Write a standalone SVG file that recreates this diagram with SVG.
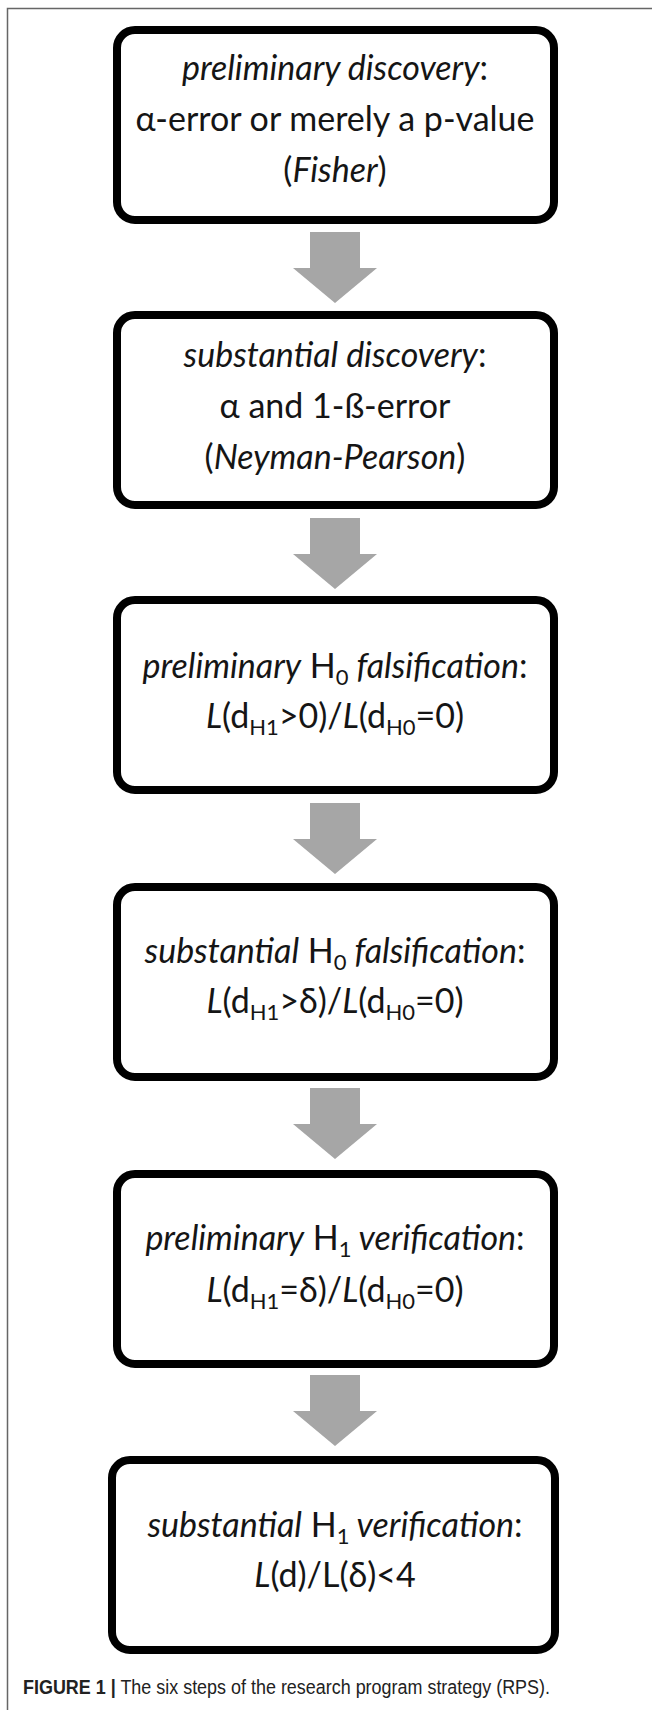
<svg xmlns="http://www.w3.org/2000/svg" width="652" height="1710" viewBox="0 0 652 1710">
<style>
.box{fill:#fff;stroke:#000;stroke-width:8}
.t{font-family:Lato,"Open Sans","Liberation Sans",sans-serif;font-size:34px;fill:#151515;text-anchor:middle}
.i{font-style:italic}
.arrow{fill:#a6a6a6}
.cap{font-family:"Liberation Sans",Arial,sans-serif;font-size:21px;fill:#222}
</style>
<rect width="652" height="1710" fill="#fff"/>
<path d="M7.5 1710 V8.5 H652" fill="none" stroke="#666" stroke-width="1.5"/>
<g id="connectors">
<polygon class="arrow" points="310,232 360,232 360,268 377,268 335,303 293,268 310,268"/>
<polygon class="arrow" points="310,518 360,518 360,554 377,554 335,589 293,554 310,554"/>
<polygon class="arrow" points="310,803 360,803 360,839 377,839 335,874 293,839 310,839"/>
<polygon class="arrow" points="310,1088 360,1088 360,1124 377,1124 335,1159 293,1124 310,1124"/>
<polygon class="arrow" points="310,1375 360,1375 360,1411 377,1411 335,1446 293,1411 310,1411"/>
</g>
<g id="n1">
<rect class="box" x="117" y="30" width="437" height="190" rx="18"/>
<text class="t" x="335" y="80"><tspan class="i">preliminary discovery</tspan>:</text>
<text class="t" x="335" y="131">α-error or merely a p-value</text>
<text class="t" x="335" y="182">(<tspan class="i">Fisher</tspan>)</text>
</g>
<g id="n2">
<rect class="box" x="117" y="315" width="437" height="190" rx="18"/>
<text class="t" x="335" y="367"><tspan class="i">substantial discovery</tspan>:</text>
<text class="t" x="335" y="418">α and 1-ß-error</text>
<text class="t" x="335" y="469">(<tspan class="i">Neyman-Pearson</tspan>)</text>
</g>
<g id="n3">
<rect class="box" x="117" y="600" width="437" height="190" rx="18"/>
<text class="t" x="335" y="678"><tspan class="i">preliminary</tspan> H<tspan font-size="22" dy="7">0</tspan><tspan dy="-7" class="i"> falsification</tspan>:</text>
<text class="t" x="335" y="728"><tspan class="i">L</tspan>(d<tspan font-size="22" dy="7">H1</tspan><tspan dy="-7">&gt;0)/</tspan><tspan class="i">L</tspan>(d<tspan font-size="22" dy="7">H0</tspan><tspan dy="-7">=0)</tspan></text>
</g>
<g id="n4">
<rect class="box" x="117" y="887" width="437" height="190" rx="18"/>
<text class="t" x="335" y="963"><tspan class="i">substantial</tspan> H<tspan font-size="22" dy="7">0</tspan><tspan dy="-7" class="i"> falsification</tspan>:</text>
<text class="t" x="335" y="1013"><tspan class="i">L</tspan>(d<tspan font-size="22" dy="7">H1</tspan><tspan dy="-7">&gt;δ)/</tspan><tspan class="i">L</tspan>(d<tspan font-size="22" dy="7">H0</tspan><tspan dy="-7">=0)</tspan></text>
</g>
<g id="n5">
<rect class="box" x="117" y="1174" width="437" height="190" rx="18"/>
<text class="t" x="335" y="1250"><tspan class="i">preliminary</tspan> H<tspan font-size="22" dy="7">1</tspan><tspan dy="-7" class="i"> verification</tspan>:</text>
<text class="t" x="335" y="1302"><tspan class="i">L</tspan>(d<tspan font-size="22" dy="7">H1</tspan><tspan dy="-7">=δ)/</tspan><tspan class="i">L</tspan>(d<tspan font-size="22" dy="7">H0</tspan><tspan dy="-7">=0)</tspan></text>
</g>
<g id="n6">
<rect class="box" x="112" y="1460" width="443" height="190" rx="18"/>
<text class="t" x="335" y="1537"><tspan class="i">substantial</tspan> H<tspan font-size="22" dy="7">1</tspan><tspan dy="-7" class="i"> verification</tspan>:</text>
<text class="t" x="335" y="1587"><tspan class="i">L</tspan>(d)/L(δ)&lt;4</text>
</g>
<g id="caption" transform="translate(23,1694) scale(0.855,1)">
<text class="cap" x="0" y="0"><tspan font-weight="bold">FIGURE 1 |</tspan> The six steps of the research program strategy (RPS).</text>
</g>
</svg>
